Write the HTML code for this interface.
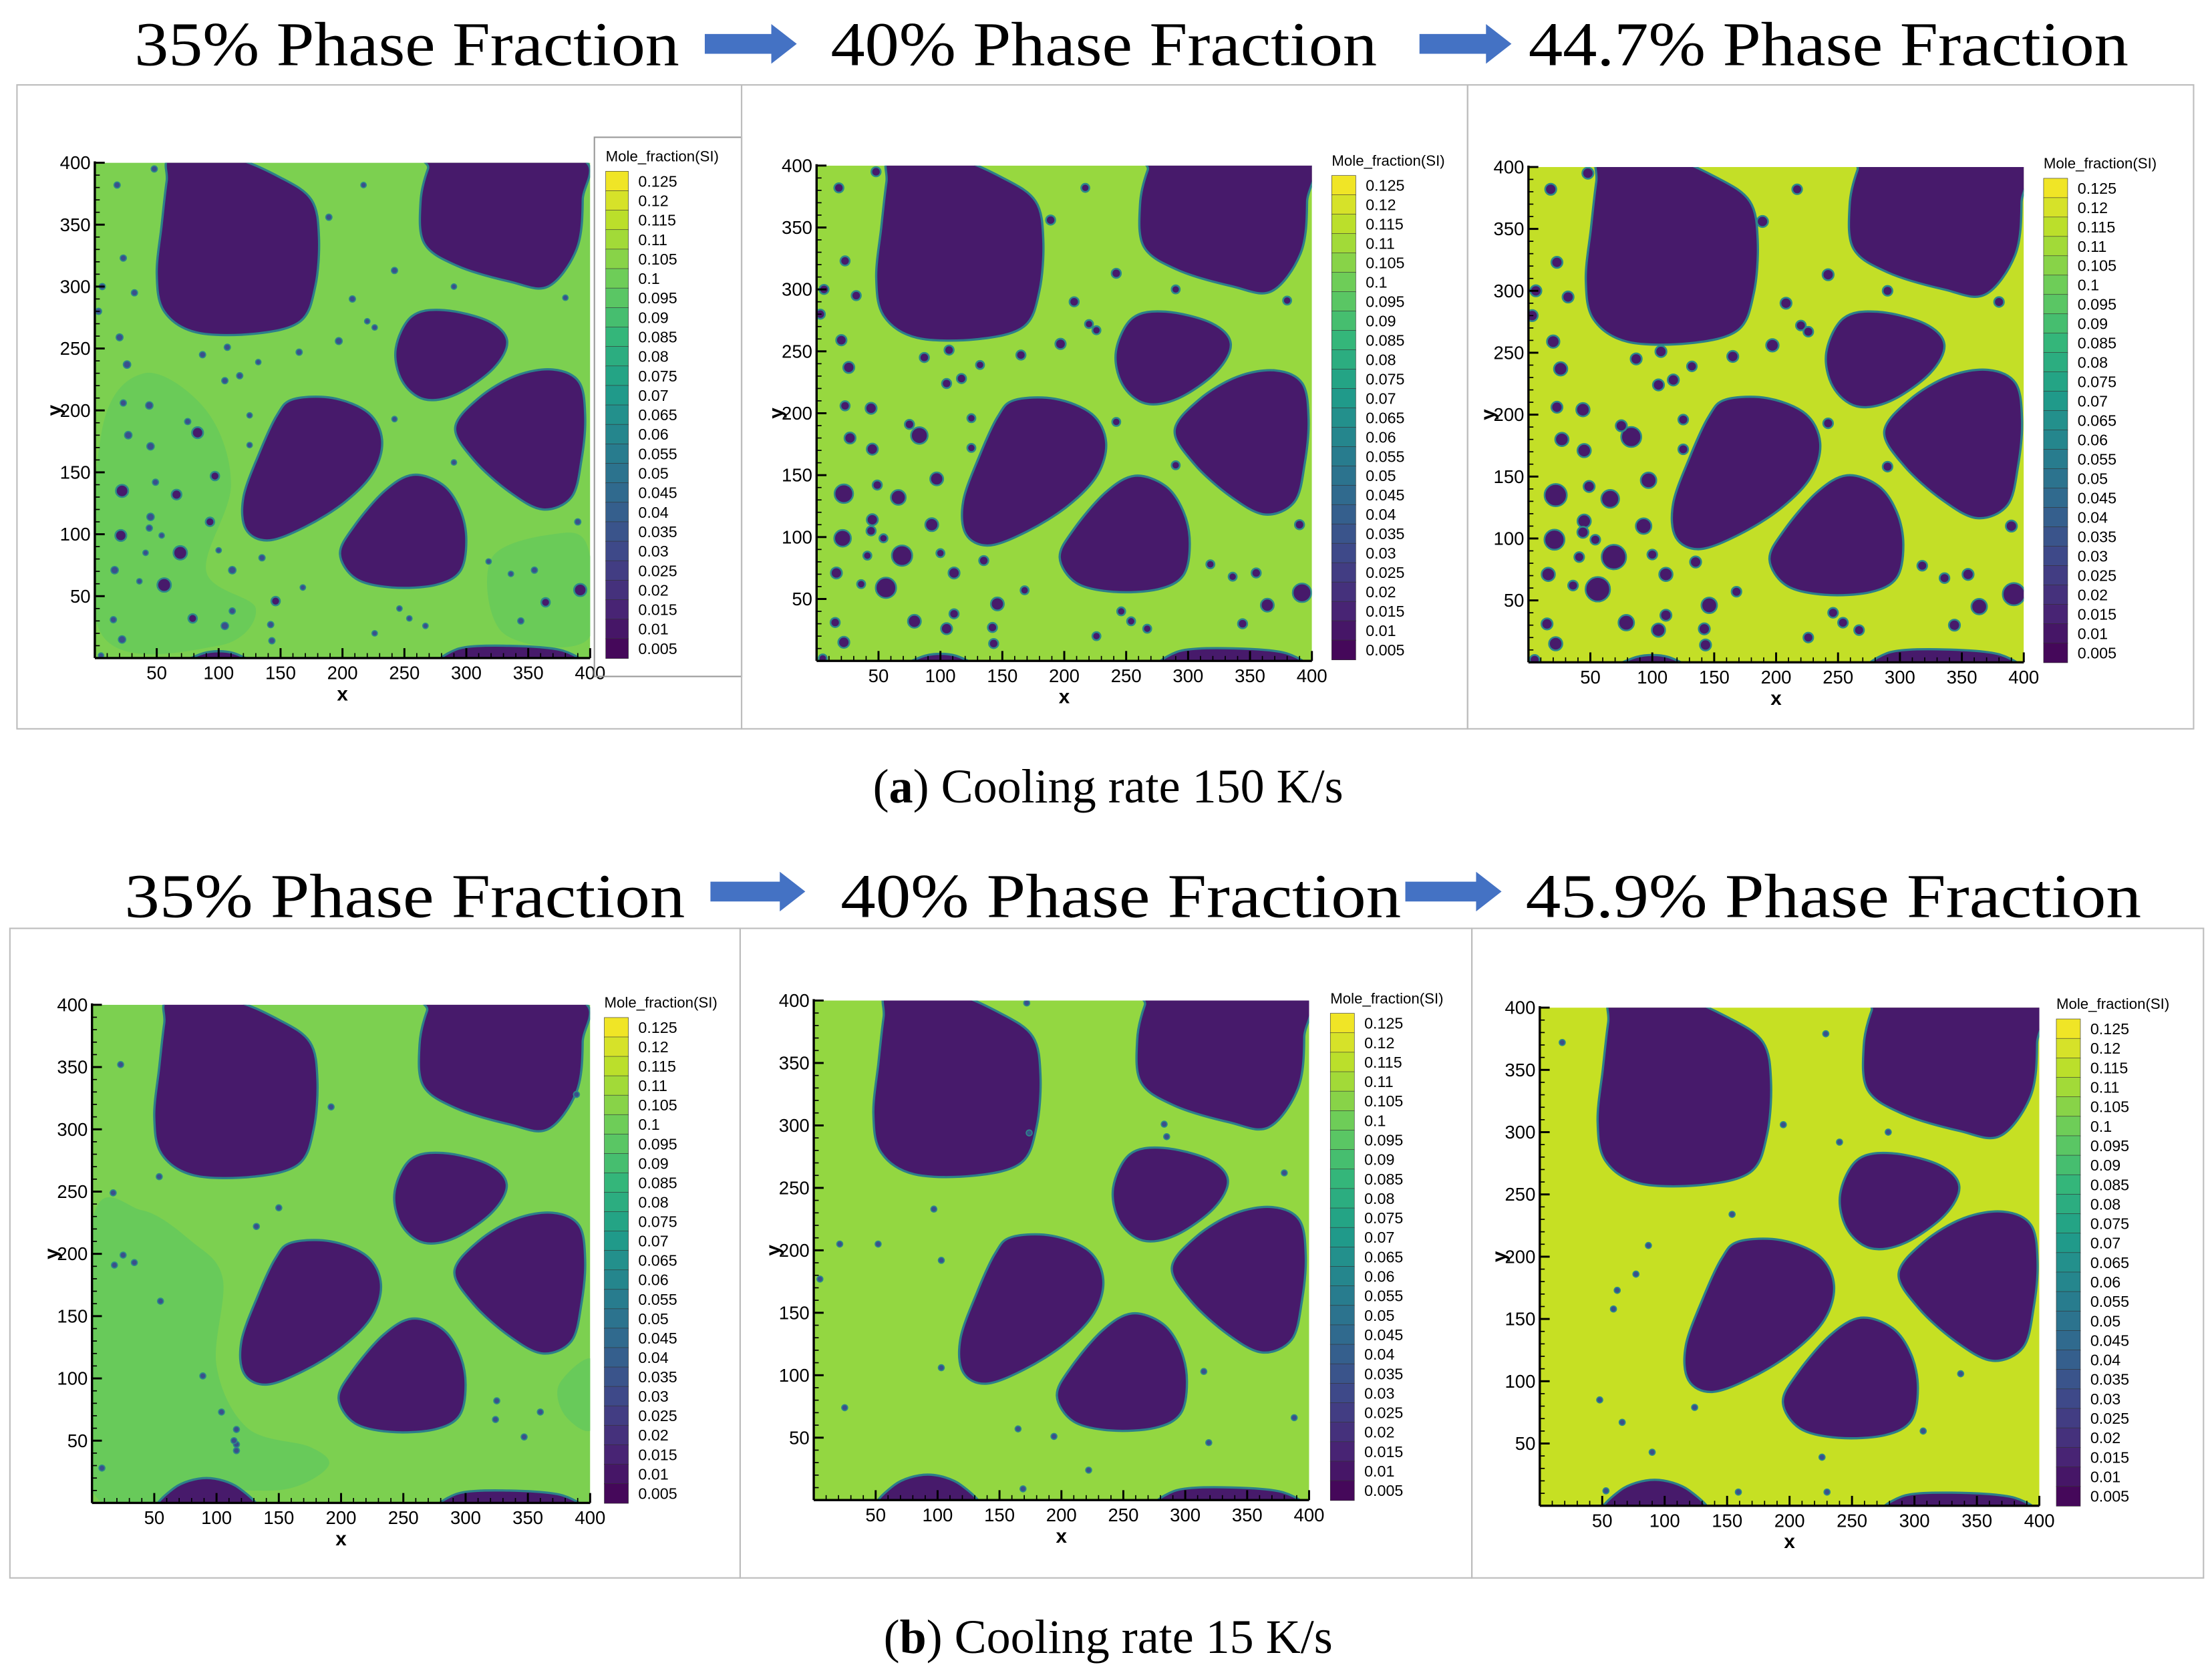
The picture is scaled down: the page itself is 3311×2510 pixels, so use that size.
<!DOCTYPE html>
<html><head><meta charset="utf-8"><style>
html,body{margin:0;padding:0;background:#fff;width:3311px;height:2510px;overflow:hidden}
svg{display:block}
</style></head><body>
<svg id="fig" xmlns="http://www.w3.org/2000/svg" width="3311" height="2510" viewBox="0 0 1563 1185" preserveAspectRatio="none"></svg>
<script>
// ---- data ----
const colorbarTicks = ["0.125","0.12","0.115","0.11","0.105","0.1","0.095","0.09","0.085","0.08","0.075","0.07","0.065","0.06","0.055","0.05","0.045","0.04","0.035","0.03","0.025","0.02","0.015","0.01","0.005"];
const axisTicks = [50,100,150,200,250,300,350,400];
const titlesA = ["35% Phase Fraction","40% Phase Fraction","44.7% Phase Fraction"];
const titlesB = ["35% Phase Fraction","40% Phase Fraction","45.9% Phase Fraction"];
// big precipitate outlines (data coords 0-400)
const blobTopLeft = [[62,404],[110,404],[150,388],[175,370],[181,340],[178,300],[166,272],[130,262],[82,263],[56,280],[50,310],[54,350],[58,385]];
const blobTopRight = [[276,404],[390,404],[394,370],[389,330],[366,300],[335,304],[292,317],[266,335],[263,368],[269,395]];
const blobMiddle = [[256,276],[282,281],[318,272],[333,256],[322,234],[292,213],[266,209],[248,224],[243,250]];
const blobRight = [[291,186],[310,210],[340,228],[370,233],[391,223],[396,195],[393,160],[385,130],[362,120],[335,134],[306,160]];
const blobLeft = [[160,209],[192,210],[221,198],[232,176],[225,150],[202,126],[170,106],[140,95],[122,104],[120,130],[133,166],[147,196]];
const blobBottom = [[257,148],[281,140],[295,120],[300,95],[295,70],[275,59],[240,57],[211,64],[198,84],[209,106],[234,135]];
const blobEdgeR = [[283,-8],[388,-8],[378,6],[330,10],[292,7]];
const blobEdgeL = [[70,-8],[128,-8],[112,4],[88,4]];
const blobEdgeLb = [[55,-8],[130,-8],[118,12],[92,20],[66,12]];
// small particles: x, y, r (data units)
const dotsAx = [48,18,23,6,32,3,20,26,23,44,27,45,83,75,87,107,105,117,132,125,125,97,22,49,66,45,44,21,54,69,93,100,41,16,56,36,111,135,146,111,79,105,15,22,142,143,5,168,165,197,208,189,217,220,226,242,290,380,242,290,390,318,336,355,364,392,344,246,254,267,226];
const dotsAy = [395,382,323,300,295,280,259,237,206,204,180,171,182,191,245,251,224,228,239,196,172,147,135,142,132,114,105,99,99,85,110,87,85,71,59,62,71,81,46,38,32,26,31,15,27,14,2,57,247,256,290,356,382,272,267,313,300,291,193,158,110,78,68,71,45,55,30,40,32,26,20];
const dotsAr = [2.5,2.5,2.5,2.5,2.5,2.5,2.8,3,2.5,3,3,3,4.5,2.5,2.5,2.5,2.5,2.5,2.2,2.2,2.2,3.5,5,2.5,4,3,2.5,4.5,2.2,5.5,3.5,2.2,2.2,3,5.5,2.2,3,2.5,3.5,2.5,3.5,3,2.5,3,2.5,2.5,2.2,2.2,2.5,2.8,2.5,2.5,2.2,2.2,2.2,2.5,2.2,2.2,2.2,2.2,2.5,2.2,2.2,2.5,3.5,5,2.5,2.2,2.2,2.2,2.2];
const dotsB1x = [23,192,389,17,25,34,18,89,104,116,116,116,325,360,324,347,114,8,54,132,150,55];
const dotsB1y = [352,318,328,249,199,193,191,102,73,59,42,47,82,73,67,53,50,28,262,222,237,162];
const dotsB2x = [172,174,283,285,380,97,21,52,103,5,25,103,165,194,315,388,319,169,222];
const dotsB2y = [398,294,301,291,262,233,205,205,192,177,74,106,57,51,103,66,46,9,24];
const dotsB3x = [18,229,195,240,279,87,154,77,62,59,337,124,48,66,226,307,90,159,230,53];
const dotsB3y = [372,379,306,292,300,209,234,186,173,158,106,79,85,67,39,60,43,11,11,12];

// ---- helpers ----
const NS="http://www.w3.org/2000/svg";
const svg=document.getElementById('fig');
function el(tag,attrs,parent){const e=document.createElementNS(NS,tag);for(const k in attrs)e.setAttribute(k,attrs[k]);(parent||svg).appendChild(e);return e;}
function viridis(t){const s=[[68,1,84],[72,40,120],[62,74,137],[49,104,142],[38,130,142],[31,158,137],[53,183,121],[109,205,89],[180,222,44],[253,231,37]];
 const p=t*(s.length-1);const i=Math.min(Math.floor(p),s.length-2);const f=p-i;
 const c=s[i].map((v,k)=>Math.round(v+(s[i+1][k]-v)*f));return `rgb(${c[0]},${c[1]},${c[2]})`;}
function crPath(pts,sx,sy){const n=pts.length;let d='';
 const P=pts.map(p=>[sx(p[0]),sy(p[1])]);
 d+=`M${P[0][0]},${P[0][1]}`;
 for(let i=0;i<n;i++){const p0=P[(i-1+n)%n],p1=P[i],p2=P[(i+1)%n],p3=P[(i+2)%n];
  const c1=[p1[0]+(p2[0]-p0[0])/6,p1[1]+(p2[1]-p0[1])/6],c2=[p2[0]-(p3[0]-p1[0])/6,p2[1]-(p3[1]-p1[1])/6];
  d+=`C${c1[0]},${c1[1]} ${c2[0]},${c2[1]} ${p2[0]},${p2[1]}`;}
 return d+'Z';}
function scaleBlob(pts,k){const cx=pts.reduce((a,p)=>a+p[0],0)/pts.length,cy=pts.reduce((a,p)=>a+p[1],0)/pts.length;
 return pts.map(p=>[cx+(p[0]-cx)*k,cy+(p[1]-cy)*k]);}

let clipId=0;
function panel(cfg){
 const g=el('g',{});
 
 
 const bx=el('rect',{x:cfg.box[0],y:cfg.box[1],width:cfg.box[2],height:cfg.box[3],fill:'none',stroke:'#bdbdbd','stroke-width':1},g);
 
 
 const P=cfg.plot;const sx=v=>P.x+v/400*P.w, sy=v=>P.y+P.h-v/400*P.h;
 const id='c'+(clipId++);
 const cp=el('clipPath',{id:id},g);el('rect',{x:P.x,y:P.y,width:P.w,height:P.h},cp);
 const field=el('g',{'clip-path':`url(#${id})`},g);
 
 
 el('rect',{x:P.x,y:P.y,width:P.w,height:P.h,fill:cfg.bg},field);
 (cfg.patches||[]).forEach(pt=>{const e=el('path',{d:crPath(pt,sx,sy),fill:cfg.patchColor},field);
  
  });
 cfg.blobs.forEach(b=>{const e=el('path',{d:crPath(scaleBlob(b,cfg.k),sx,sy),fill:'#471a6b',stroke:'#2c7f8a','stroke-width':1.6},field);
  
  });
 for(let i=0;i<cfg.dx.length;i++){const r=(cfg.dr?cfg.dr[i]:2.4)*cfg.dk;
  const c=el('circle',{cx:sx(cfg.dx[i]),cy:sy(cfg.dy[i]),r:r/400*P.w,fill:r>3?'#471a6b':'#3b4f8c',stroke:'#2c8a8a','stroke-width':r>3?1.2:0.8},field);
  
  }
 const ax=el('g',{stroke:'#000','stroke-width':1.6,fill:'none'},g);
 
 
 el('line',{x1:P.x,y1:P.y-1,x2:P.x,y2:P.y+P.h},ax);
 el('line',{x1:P.x,y1:P.y+P.h,x2:P.x+P.w,y2:P.y+P.h},ax);
 for(let v=10;v<=400;v+=10){const major=v%50===0;const L=major?7:3.5;
  el('line',{x1:P.x,y1:sy(v),x2:P.x+L,y2:sy(v),'stroke-width':major?1.4:0.8},ax);
  el('line',{x1:sx(v),y1:P.y+P.h,x2:sx(v),y2:P.y+P.h-L,'stroke-width':major?1.4:0.8},ax);}
 axisTicks.forEach(v=>{
  const t=el('text',{x:P.x-3,y:sy(v)+4.5,'text-anchor':'end','font-size':13,'font-family':'Liberation Sans, Arial, sans-serif'},g);t.textContent=v;
  
  
  const u=el('text',{x:sx(v),y:P.y+P.h+15,'text-anchor':'middle','font-size':13,'font-family':'Liberation Sans, Arial, sans-serif'},g);u.textContent=v;
  
  });
 const xl=el('text',{x:P.x+P.w/2,y:P.y+P.h+30,'text-anchor':'middle','font-size':14,'font-weight':'bold','font-family':'Liberation Sans, Arial, sans-serif'},g);xl.textContent='x';
 
 
 const yl=el('text',{x:P.x-28,y:sy(200)+4,'text-anchor':'middle','font-size':14,'font-weight':'bold','font-family':'Liberation Sans, Arial, sans-serif',transform:`rotate(-90 ${P.x-28} ${sy(200)})`},g);yl.textContent='y';
 
 
 const L=cfg.cb;const lg=el('g',{},g);
 
 
 if(cfg.legendBox){el('rect',{x:cfg.legendBox[0],y:cfg.legendBox[1],width:cfg.legendBox[2],height:cfg.legendBox[3],fill:'none',stroke:'#9a9a9a','stroke-width':1},lg);}
 const lt=el('text',{x:L.x,y:L.y-7,'font-size':10.5,'font-family':'Liberation Sans, Arial, sans-serif'},lg);lt.textContent='Mole_fraction(SI)';
 
 
 const n=colorbarTicks.length;const bh=L.h/n;
 colorbarTicks.forEach((lab,i)=>{
  const r=el('rect',{x:L.x,y:L.y+i*bh,width:L.w,height:bh+0.3,fill:viridis(1-(i+0.5)/n),stroke:'#333','stroke-width':0.3},lg);
  
  
  const t=el('text',{x:L.x+L.w+7,y:L.y+i*bh+bh/2+4,'font-size':11,'font-family':'Liberation Sans, Arial, sans-serif'},lg);t.textContent=lab;
  
  });
}
function title(txt,x,w,y){const t=el('text',{x:x,y:y,'font-size':44,'font-family':'Liberation Serif, Times New Roman, serif',textLength:w,lengthAdjust:'spacingAndGlyphs'});t.textContent=txt;
 
 }
function arrow(x1,x2,yc){const a=el('path',{d:`M${x1},${yc-7}L${x2-18},${yc-7}L${x2-18},${yc-14}L${x2},${yc}L${x2-18},${yc+14}L${x2-18},${yc+7}L${x1},${yc+7}Z`,fill:'#4472c4'});
 
 }

title(titlesA[0],95,385,46);arrow(498,563,31);title(titlesA[1],587,386,46);arrow(1003,1068,31);title(titlesA[2],1080,424,46);
title(titlesB[0],88,396,648);arrow(502,569,630);title(titlesB[1],594,396,648);arrow(993,1061,630);title(titlesB[2],1078,435,648);

const blobsA=[blobTopLeft,blobTopRight,blobMiddle,blobRight,blobLeft,blobBottom,blobEdgeR,blobEdgeL];
const blobsB=[blobTopLeft,blobTopRight,blobMiddle,blobRight,blobLeft,blobBottom,blobEdgeR,blobEdgeLb];
const patchA=[[[5,180],[40,230],[90,200],[110,140],[90,70],[130,40],[100,10],[5,20]],[[320,80],[370,100],[398,90],[398,15],[330,20]]];
const patchB=[[[0,225],[40,235],[80,210],[105,180],[100,110],[125,60],[175,45],[190,30],[160,12],[110,10],[0,10]],[[375,95],[402,115],[402,60],[380,70]]];

panel({name:'panel-a-35',box:[12,60,512,455],plot:{x:67,y:115,w:350,h:350},bg:'#7cd050',patchColor:'#6acb58',patches:patchA,blobs:blobsA,k:1.0,dx:dotsAx,dy:dotsAy,dr:dotsAr,dk:1.0,cb:{x:428,y:121,w:16,h:344},legendBox:[420,97,104,381]});
panel({name:'panel-a-40',box:[524,60,513,455],plot:{x:577,y:117,w:350,h:350},bg:'#97d83f',patchColor:'#a6db3a',patches:[],blobs:blobsA,k:1.03,dx:dotsAx,dy:dotsAy,dr:dotsAr,dk:1.5,cb:{x:941,y:124,w:17,h:342}});
panel({name:'panel-a-44-7',box:[1037,60,513,455],plot:{x:1080,y:118,w:350,h:350},bg:'#c3df27',patchColor:'#b2dc32',patches:[],blobs:blobsA,k:1.06,dx:dotsAx,dy:dotsAy,dr:dotsAr,dk:1.8,cb:{x:1444,y:126,w:17,h:342}});
panel({name:'panel-b-35',box:[7,656,516,459],plot:{x:65,y:710,w:352,h:352},bg:'#7cd050',patchColor:'#68ca5a',patches:patchB,blobs:blobsB,k:1.0,dx:dotsB1x,dy:dotsB1y,dk:1,cb:{x:427,y:719,w:17,h:343}});
panel({name:'panel-b-40',box:[523,656,517,459],plot:{x:575,y:707,w:350,h:353},bg:'#93d741',patchColor:'#a9dc38',patches:[],blobs:blobsB,k:1.03,dx:dotsB2x,dy:dotsB2y,dk:1,cb:{x:940,y:716,w:17,h:344}});
panel({name:'panel-b-45-9',box:[1040,656,517,459],plot:{x:1088,y:712,w:353,h:352},bg:'#c6e023',patchColor:'#b8dd2c',patches:[],blobs:blobsB,k:1.06,dx:dotsB3x,dy:dotsB3y,dk:1,cb:{x:1453,y:720,w:17,h:344}});

function caption(letter,rest,y){const t=el('text',{x:783,y:y,'text-anchor':'middle','font-size':34,'font-family':'Liberation Serif, Times New Roman, serif'});
 
 
 const a=el('tspan',{},t);a.textContent='(';const b=el('tspan',{'font-weight':'bold'},t);b.textContent=letter;const c=el('tspan',{},t);c.textContent=') '+rest;}
caption('a','Cooling rate 150 K/s',567);
caption('b','Cooling rate 15 K/s',1168);
</script>
</body></html>
